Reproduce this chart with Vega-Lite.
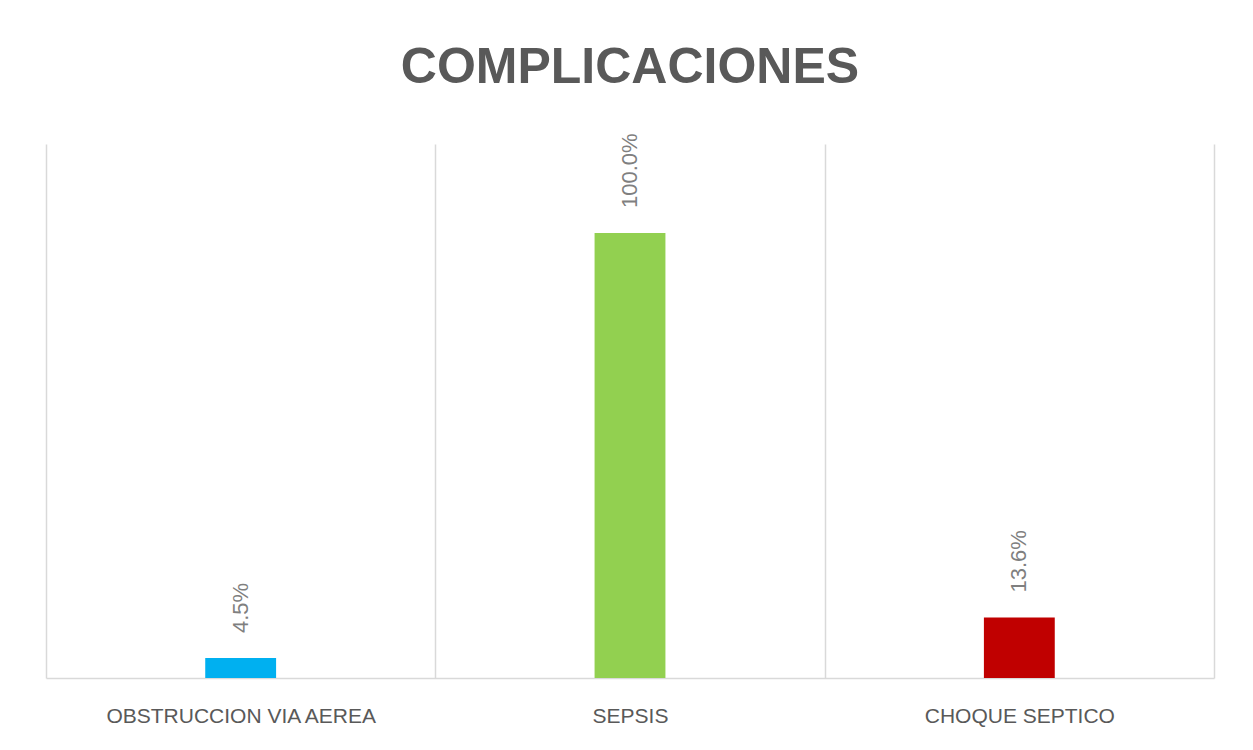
{
  "$schema": "https://vega.github.io/schema/vega-lite/v6.json",
  "width": 1168,
  "height": 534,
  "autosize": {"type": "none"},
  "padding": {"left": 46, "top": 144, "right": 39, "bottom": 72},
  "background": "white",
  "title": {
    "text": "COMPLICACIONES",
    "font": "Liberation Sans",
    "fontSize": 50,
    "fontWeight": "bold",
    "color": "#595959",
    "anchor": "middle",
    "baseline": "alphabetic",
    "offset": 0
  },
  "data": {
    "values": [
      {"categoria": "OBSTRUCCION VIA AEREA", "valor": 0.045},
      {"categoria": "SEPSIS", "valor": 1.0},
      {"categoria": "CHOQUE SEPTICO", "valor": 0.136}
    ]
  },
  "encoding": {
    "x": {
      "field": "categoria",
      "type": "nominal",
      "sort": null,
      "scale": {"paddingInner": 0, "paddingOuter": 0},
      "axis": {
        "title": null,
        "labelAngle": 0,
        "labelFont": "Liberation Sans",
        "labelFontSize": 21,
        "labelColor": "#595959",
        "labelPadding": 27,
        "labelLimit": 0,
        "ticks": false,
        "domainColor": "#d9d9d9",
        "domainWidth": 1.5,
        "grid": true,
        "gridColor": "#d9d9d9",
        "gridWidth": 1.5,
        "tickBand": "extent"
      }
    },
    "y": {
      "field": "valor",
      "type": "quantitative",
      "scale": {"domain": [0, 1.2]},
      "axis": null
    }
  },
  "layer": [
    {
      "mark": {"type": "bar", "width": {"band": 0.182}},
      "encoding": {
        "color": {
          "field": "categoria",
          "type": "nominal",
          "scale": {
            "domain": ["OBSTRUCCION VIA AEREA", "SEPSIS", "CHOQUE SEPTICO"],
            "range": ["#00B0F0", "#92D050", "#C00000"]
          },
          "legend": null
        }
      }
    },
    {
      "mark": {
        "type": "text",
        "angle": 270,
        "align": "left",
        "baseline": "middle",
        "dx": 25,
        "font": "Liberation Sans",
        "fontSize": 22,
        "color": "#7f7f7f"
      },
      "encoding": {
        "text": {"field": "valor", "type": "quantitative", "format": ".1%"}
      }
    }
  ],
  "config": {"view": {"stroke": null}}
}
